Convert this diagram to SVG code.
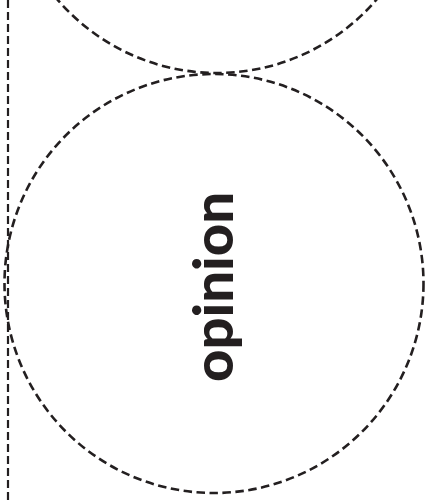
<svg xmlns="http://www.w3.org/2000/svg" width="426" height="504" viewBox="0 0 426 504">
  <style>
    .dash { fill: none; stroke: #231f20; stroke-width: 2.6; stroke-dasharray: 8.5 4.5; }
    .vline { fill: none; stroke: #231f20; stroke-width: 2.2; stroke-dasharray: 8 4; }
    .label { font-family: "Lato", "DejaVu Sans", sans-serif; font-weight: 900; font-size: 56px; fill: #231f20; }
  </style>
  <rect width="426" height="504" fill="#ffffff"/>
  <g id="divider">
    <line class="vline" x1="8" y1="0" x2="8" y2="504"/>
  </g>
  <g id="top-circle">
    <circle class="dash" cx="217" cy="-137" r="210"/>
  </g>
  <g id="opinion">
    <circle class="dash" cx="214" cy="283.5" r="209.5"/>
    <text class="label" transform="translate(233,287) rotate(-90)" x="0" y="0" text-anchor="middle" textLength="190" lengthAdjust="spacingAndGlyphs">opinion</text>
  </g>
  <g id="connectors"/>
</svg>
